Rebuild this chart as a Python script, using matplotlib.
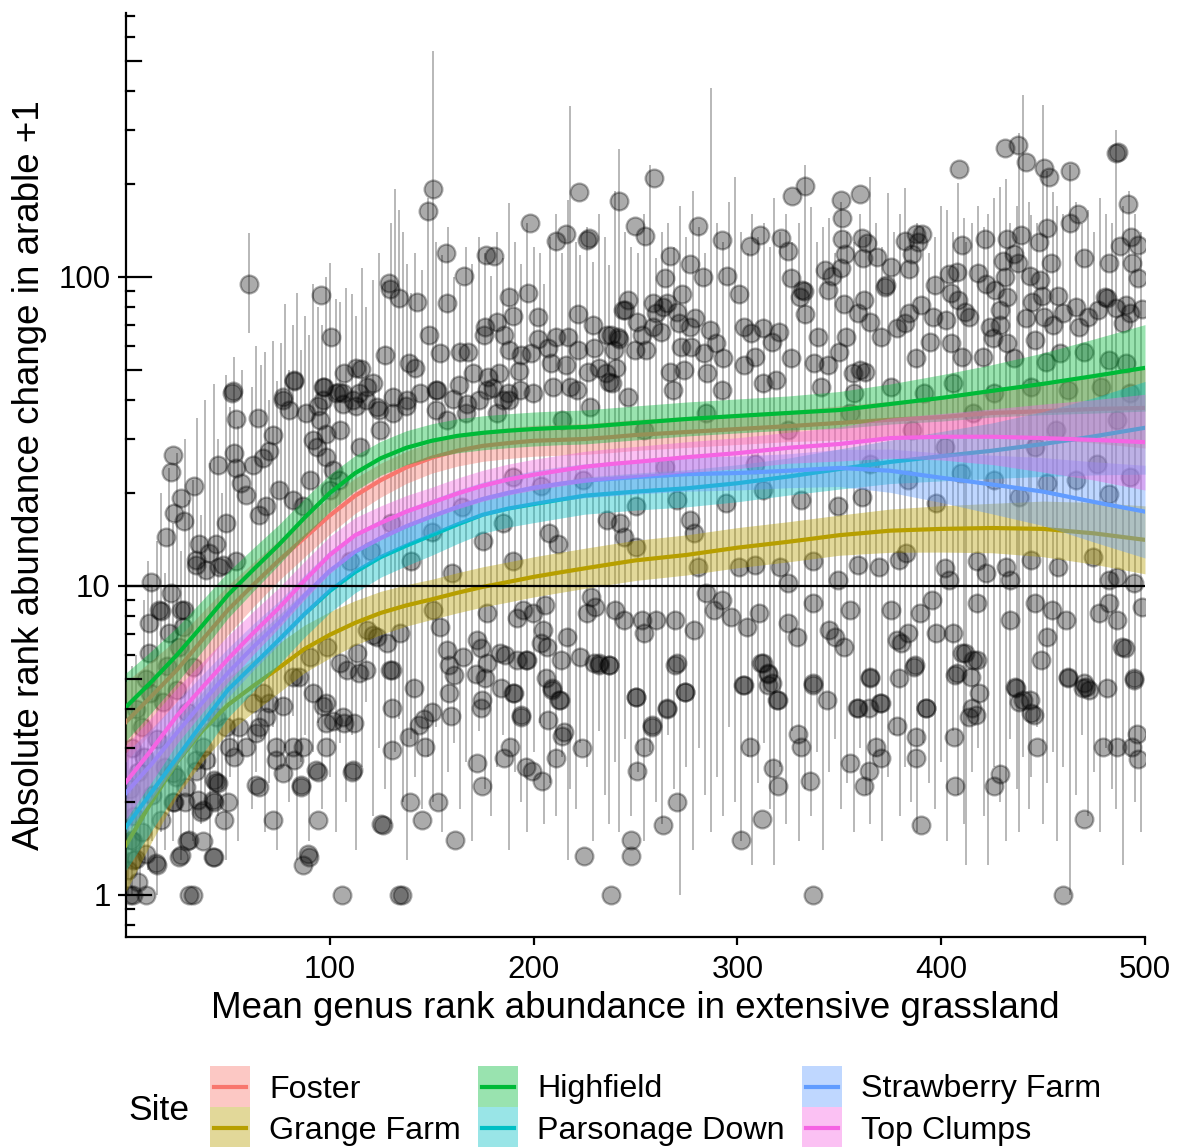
import matplotlib
matplotlib.use("Agg")
import matplotlib.pyplot as plt
from matplotlib.patches import Rectangle
from matplotlib.lines import Line2D
import numpy as np

plt.rcParams['font.family'] = ['Liberation Sans', 'DejaVu Sans']

W, H = 1181, 1147

sites = ["Foster", "Grange Farm", "Highfield", "Parsonage Down", "Strawberry Farm", "Top Clumps"]
site_colors = ["#F8766D", "#B79F00", "#00BA38", "#00BFC4", "#619CFF", "#F564E3"]

# loess fits
smooth_x = [0, 12.5, 25, 37.5, 50, 62.5, 75, 87.5, 100, 112.5, 125, 137.5, 150, 162.5, 175, 187.5, 200, 212.5, 225,
            237.5, 250, 275, 300, 325, 350, 375, 400, 425, 450, 475, 500]
fit_foster = [3.63, 4.4, 5.35, 6.7, 8.36, 10.1, 12.1, 14.3, 16.9, 19.6, 22.0, 24.2, 26.0, 27.4, 28.4, 29.0, 29.5, 29.7,
              29.9, 30.3, 30.8, 31.5, 32.2, 32.9, 33.7, 34.5, 35.2, 36.3, 36.8, 37.4, 37.7]
fit_grange = [1.45, 2.0, 2.69, 3.4, 4.12, 4.75, 5.43, 6.25, 6.95, 7.6, 8.18, 8.65, 9.05, 9.5, 9.93, 10.3, 10.7, 11.05,
              11.4, 11.75, 12.1, 12.6, 13.3, 13.9, 14.6, 15.1, 15.3, 15.4, 15.3, 14.8, 14.1]
fit_highfield = [4.06, 4.9, 5.98, 7.45, 9.35, 11.3, 13.6, 16.6, 20.0, 23.2, 25.9, 28.0, 29.5, 30.6, 31.3, 31.8, 32.2,
                 32.5, 32.7, 33.2, 33.7, 34.7, 35.5, 36.3, 37.1, 38.8, 40.6, 42.8, 45.1, 47.8, 50.8]
fit_parsonage = [1.66, 2.15, 2.78, 3.6, 4.61, 5.55, 6.69, 8.1, 9.63, 11.1, 12.4, 13.5, 14.6, 15.8, 17.0, 17.8, 18.4,
                 19.0, 19.6, 19.9, 20.2, 20.7, 21.5, 22.6, 23.9, 25.2, 26.3, 27.4, 28.8, 30.5, 32.5]
fit_strawberry = [2.14, 2.65, 3.35, 4.2, 5.23, 6.35, 7.6, 9.3, 11.2, 12.9, 14.3, 15.6, 16.8, 18.0, 19.1, 20.0, 20.8,
                  21.4, 21.9, 22.2, 22.5, 23.0, 23.2, 23.6, 24.1, 23.6, 22.4, 21.3, 20.2, 18.7, 17.4]
fit_topclumps = [2.32, 2.95, 3.80, 4.7, 5.80, 7.05, 8.49, 10.4, 12.6, 14.6, 16.0, 17.4, 18.6, 19.9, 21.1, 22.1, 22.9,
                 23.6, 24.3, 24.8, 25.2, 26.1, 26.9, 28.0, 28.8, 30.1, 30.4, 30.4, 30.1, 29.7, 29.2]

# half width of the confidence band, log10 units
se_foster = [0.13, 0.115, 0.10, 0.09, 0.08, 0.072, 0.065, 0.062, 0.06, 0.057, 0.055, 0.052, 0.05, 0.05, 0.05, 0.05,
             0.05, 0.05, 0.05, 0.05, 0.05, 0.05, 0.05, 0.05, 0.055, 0.06, 0.065, 0.075, 0.09, 0.11, 0.13]
se_grange = [0.15, 0.13, 0.11, 0.10, 0.09, 0.085, 0.08, 0.077, 0.075, 0.072, 0.07, 0.067, 0.065, 0.065, 0.065, 0.065,
             0.065, 0.065, 0.065, 0.065, 0.065, 0.065, 0.065, 0.065, 0.065, 0.07, 0.075, 0.08, 0.09, 0.10, 0.11]
se_highfield = [0.11, 0.10, 0.09, 0.082, 0.075, 0.07, 0.065, 0.062, 0.06, 0.057, 0.055, 0.055, 0.055, 0.055, 0.055,
                0.055, 0.055, 0.055, 0.055, 0.055, 0.055, 0.055, 0.055, 0.055, 0.06, 0.065, 0.075, 0.085, 0.10, 0.12, 0.14]
se_parsonage = [0.14, 0.125, 0.11, 0.10, 0.09, 0.085, 0.08, 0.075, 0.07, 0.067, 0.065, 0.065, 0.065, 0.062, 0.06, 0.06,
                0.06, 0.06, 0.06, 0.06, 0.06, 0.06, 0.06, 0.06, 0.065, 0.07, 0.08, 0.09, 0.105, 0.125, 0.15]
se_strawberry = [0.13, 0.115, 0.10, 0.09, 0.08, 0.075, 0.07, 0.067, 0.065, 0.062, 0.06, 0.057, 0.055, 0.055, 0.055,
                 0.055, 0.055, 0.055, 0.055, 0.055, 0.055, 0.055, 0.055, 0.055, 0.06, 0.07, 0.08, 0.095, 0.11, 0.13, 0.15]
se_topclumps = [0.12, 0.105, 0.09, 0.082, 0.075, 0.07, 0.065, 0.062, 0.06, 0.057, 0.055, 0.052, 0.05, 0.05, 0.05, 0.05,
                0.05, 0.05, 0.05, 0.05, 0.05, 0.05, 0.05, 0.05, 0.055, 0.065, 0.075, 0.09, 0.11, 0.13, 0.155]

fits = [fit_foster, fit_grange, fit_highfield, fit_parsonage, fit_strawberry, fit_topclumps]
ses = [se_foster, se_grange, se_highfield, se_parsonage, se_strawberry, se_topclumps]

# genus points (x = mean rank in grassland, y = abs change + 1)
pts_top = [
    (60.4, 94.9), (95.8, 87.6), (100.6, 63.8), (82.3, 45.9), (52.0, 42.0), (97.1, 44.0), (107.0, 49.0), (115.3, 50.5),
    (121.0, 45.5), (129.0, 95.5), (129.6, 91.5), (134.0, 85.6), (143.0, 83.0), (148.0, 163), (150.7, 192), (157.0, 120),
    (157.5, 82.6), (166.0, 101), (176.7, 118), (180.6, 117), (198.3, 150), (211.0, 131), (216.0, 138), (222.3, 188),
    (227.0, 134), (226.0, 132), (188.0, 86), (190.0, 75), (197.3, 89), (202.0, 74), (222.0, 76), (229.0, 70), (244.0, 78),
    (127.0, 56), (139.0, 52.7), (141.8, 50.9), (148.7, 65), (154.0, 56.7), (164.0, 57), (168.0, 57), (176.0, 69),
    (175.7, 65), (182.0, 71.5), (185.5, 65), (188.0, 58), (183.0, 49), (194.0, 56), (198.8, 56.7), (202.0, 63),
    (207.0, 59), (211.0, 64), (208.6, 52.7), (217.0, 64), (216.0, 52), (222.0, 58), (229.7, 59), (238.0, 65), (242.0, 63),
    (235.6, 49), (238.5, 45.5), (232.0, 50.9), (226.7, 49.3), (193.0, 49.6), (170.3, 49), (177.7, 47.3), (163.4, 44.8),
    (152.0, 43.1), (112.9, 50.9), (104.5, 42.5), (77.0, 41.0), (114.4, 42.0),
    (241.7, 176), (259, 209), (249.8, 146), (254.6, 136), (267, 117), (280.5, 146), (276.5, 110), (264.5, 99), (273, 88),
    (283, 100), (292.5, 132), (295, 101), (300.6, 88), (306.3, 126), (311.3, 137), (321.3, 134), (324.7, 121), (327, 183),
    (333.3, 197), (326.4, 99), (332.5, 90), (330.8, 86), (333.3, 76), (351, 177), (351.4, 155), (351.4, 133), (353, 119),
    (360, 186), (360.9, 134), (363.5, 129), (361.8, 115), (342.8, 105), (346.3, 101), (350.6, 107), (344.5, 91),
    (368.6, 116), (375.2, 108), (372.4, 93), (362, 84), (352.3, 82), (382, 131), (387.6, 138), (390.7, 138), (388.4, 130),
    (385.9, 119), (384, 106), (397, 94), (408.8, 223), (410.3, 127), (407.9, 104), (404, 102), (404.8, 89), (418.2, 103),
    (421.5, 133), (422, 95), (426.3, 91), (431.5, 261), (437.5, 267), (441.8, 235), (450.4, 225), (453, 211), (463.3, 220),
    (452, 144), (463, 150), (467, 160), (432.4, 133), (439.2, 137), (447.9, 130), (435.8, 119), (437.5, 111), (430.3, 113),
    (431.5, 100), (432.4, 86), (453.9, 111), (443.5, 101), (448.7, 98), (470.2, 115), (457.3, 87), (449.6, 87),
    (486.6, 254), (485.7, 251), (491.8, 172), (493, 135), (487.8, 126), (496.4, 127), (482.3, 111), (493.5, 111),
    (496.4, 99), (480.6, 86), (490.9, 81), (498.3, 79),
]

pts_mid = [
    (236.0, 64.9), (241.2, 64.1), (239.5, 58.0), (240.3, 50.6), (236.9, 45.8), (246.4, 84.3), (244.7, 78.2), (250.7, 71.7),
    (253.3, 64.9), (249.8, 58.0), (255.0, 58.0), (258.4, 82.2), (260.2, 76.3), (263.6, 80.2), (265.3, 82.2), (262.7, 66.5),
    (258.4, 69.1), (271.3, 70.8), (270.5, 77.2), (272.2, 59.5), (267.0, 49.4), (273.9, 50.0), (277.4, 59.5), (279.1, 73.5),
    (276.5, 69.1), (283.4, 56.6), (286.8, 67.4), (289.4, 61.0), (292.9, 54.5), (285.1, 48.8), (303.2, 69.1), (306.6, 65.7),
    (303.2, 51.9), (308.4, 55.2), (312.7, 68.2), (317.0, 61.8), (320.4, 66.5), (318.7, 46.4), (326.4, 54.5), (331.6, 90.8),
    (339.4, 64.1), (337.6, 52.6), (344.5, 51.9), (349.7, 57.3), (353.1, 64.1), (356.6, 48.8), (360.0, 50.0), (362.6, 49.4),
    (359.2, 76.3), (365.2, 71.7), (370.4, 64.1), (373.0, 94.2), (378.1, 68.2), (382.4, 70.8), (384.1, 76.3), (387.6, 54.5),
    (390.2, 81.2), (396.2, 74.4), (394.5, 61.8), (402.2, 72.6), (408.2, 84.3), (411.7, 77.2), (413.4, 74.4), (404.8, 61.0),
    (410.0, 55.2), (420.3, 55.2), (423.7, 69.1), (425.5, 63.3), (428.9, 78.2), (428.9, 69.9), (432.4, 61.0), (435.8, 54.5),
    (446.1, 62.5), (441.8, 73.5), (444.4, 83.2), (450.4, 74.4), (454.7, 69.9), (459.9, 76.3), (465.9, 80.2), (467.7, 69.1),
    (472.0, 74.4), (477.1, 78.2), (481.4, 85.3), (485.7, 79.2), (489.2, 70.8), (492.6, 76.3), (470.2, 57.3), (458.2, 56.6),
    (451.3, 53.2), (482.3, 53.9), (490.9, 52.6),
    (96.9, 44.2), (106.7, 42.0), (111.6, 39.9), (118.1, 44.2), (123.0, 37.9), (131.2, 36.2), (137.8, 39.9), (144.3, 42.0),
    (152.5, 43.1), (157.4, 34.4), (167.2, 38.9), (177.0, 43.1), (185.2, 39.9), (193.4, 43.1), (199.9, 42.0), (209.7, 44.2),
    (221.2, 43.1), (227.7, 37.9), (95.2, 34.4), (105.0, 32.0), (114.9, 28.2), (93.6, 28.2), (90.3, 22.0), (101.8, 23.8),
    (124.7, 32.0), (100.1, 20.5), (87.0, 18.1), (181.9, 36.2),
    (52.4, 42.6), (54, 34.7), (64.6, 35.0), (22.9, 26.5), (22.1, 23.4), (33.5, 21.1), (27.0, 19.2), (23.7, 17.2),
    (28.6, 16.2), (19.6, 14.4), (36.0, 13.7), (45.0, 24.6), (53.2, 26.9), (54, 24.0), (56.4, 21.5), (62.2, 24.6),
    (67.1, 26.0), (70.3, 27.3), (72, 30.8), (76.9, 39.9), (80.2, 37.1), (82.6, 46.4), (65.4, 17.0), (68.7, 18.1),
    (58.9, 19.7), (49.1, 16.0), (44.2, 13.7), (40.9, 12.8), (34.4, 12.1), (39.3, 11.3), (47.4, 11.7), (88.3, 36.2),
    (94.1, 38.2), (96.5, 39.9), (91.6, 29.6), (98.2, 31.1), (103.1, 42.0), (106.3, 38.9), (112.9, 38.2), (117.8, 39.9),
    (124.3, 37.1), (130.9, 41.0), (137.4, 38.2), (152.1, 37.1), (160.3, 40.4), (166.9, 36.2), (173.4, 39.9), (180.0, 43.8),
    (188.1, 39.9), (98.2, 26.2), (104.7, 22.0), (75.3, 20.5), (81.8, 19.0),
    (140, 12), (160, 11), (175, 14), (190, 12), (150, 15), (130, 16), (120, 13), (110, 12), (165, 18), (185, 16),
    (203.8, 21.0), (236.1, 16.4), (250.2, 18.1), (270.4, 19.0), (294.6, 18.5), (312.8, 20.5), (331.0, 19.0), (349.2, 18.1),
    (361.3, 19.4), (383.5, 22.0), (397.6, 18.5), (409.7, 23.2), (425.9, 22.0), (438.0, 19.4), (452.1, 21.5), (466.3, 22.0),
    (482.4, 19.9), (492.5, 22.6), (189.7, 22.6), (224.0, 22.0), (264.4, 24.3), (308.8, 24.9), (365.3, 24.9), (401.7, 28.2),
    (446.1, 28.2), (476.4, 24.9), (213.9, 34.4), (254.3, 32.0), (284.6, 36.2), (324.9, 32.0), (355.2, 36.2), (385.5, 32.0),
    (415.8, 36.2), (456.2, 32.0), (486.4, 34.4), (187.6, 42.0), (217.9, 44.2), (246.2, 41.0), (268.4, 43.1), (292.6, 43.1),
    (312.8, 45.3), (341.1, 44.2), (357.2, 42.0), (375.4, 44.2), (391.6, 42.0), (405.7, 45.3), (425.9, 42.0), (444.1, 44.2),
    (462.2, 43.1), (478.4, 44.2), (492.5, 42.0),
    (207.8, 14.8), (211.9, 13.7), (242.2, 16.0), (244.2, 14.4), (250.2, 13.4), (276.5, 16.4), (278.5, 14.8), (280.5, 11.5),
    (300.7, 11.5), (308.8, 11.7), (320.9, 11.5), (324.9, 10.2), (337.0, 12.0), (349.2, 10.45), (359.3, 11.7), (369.3, 11.5),
    (379.4, 12.1), (382.5, 12.8), (401.7, 11.4), (403.7, 10.45), (417.8, 12.0), (421.8, 11.0), (431.9, 11.5), (434.0, 10.45),
    (444.1, 12.1), (457.2, 11.5), (474.3, 12.4), (482.4, 10.45), (486.4, 10.7), (494.5, 10.2),
]

pts_low = [
    (191.7, 7.86), (194.7, 8.36), (205.8, 8.68), (196.7, 5.76), (203.8, 6.52), (208.8, 4.61), (212.9, 4.28), (189.7, 4.49),
    (193.7, 3.78), (228.0, 9.24), (230.0, 8.57), (232.1, 5.62), (237.1, 5.55), (240.1, 8.36), (244.2, 7.76), (253.3, 7.76),
    (254.3, 7.03), (250.2, 4.38), (258.3, 3.55), (260.3, 7.76), (265.4, 4.02), (270.4, 5.62), (269.4, 7.76), (274.5, 4.55),
    (278.5, 7.21), (284.6, 9.47), (288.6, 8.36), (292.6, 9.01), (296.7, 7.96), (302.7, 4.78), (304.7, 7.39), (310.8, 8.16),
    (312.8, 5.62), (314.8, 5.22), (316.9, 4.84), (319.9, 4.28), (324.9, 7.57), (329.0, 6.86), (337.0, 8.79), (337.0, 4.84),
    (345.1, 7.21), (348.1, 6.86), (352.2, 6.36), (355.2, 8.36), (359.3, 4.02), (365.3, 5.09), (370.4, 4.17), (375.4, 8.36),
    (378.4, 6.69), (380.5, 6.52), (383.5, 7.03), (386.5, 5.48), (389.5, 8.16), (392.6, 4.02), (395.6, 9.01), (397.6, 7.03),
    (405.7, 7.03), (407.7, 5.22), (411.8, 6.06), (415.8, 5.76), (417.8, 8.79), (413.8, 3.78), (434.0, 7.76), (436.0, 4.72),
    (440.0, 4.28), (444.1, 3.87), (446.1, 8.79), (452.1, 6.86), (454.2, 8.36), (461.2, 7.76), (462.2, 5.09), (470.3, 4.84),
    (472.3, 4.61), (477.4, 8.16), (482.4, 8.79), (486.4, 7.76), (488.5, 6.36), (494.5, 4.96), (498.6, 8.57),
    (118.1, 7.21), (123.0, 6.86), (128.0, 6.52), (134.5, 7.03), (150.8, 8.36), (154.1, 7.39), (157.4, 6.2), (165.6, 5.91),
    (172.1, 6.69), (177.0, 8.16), (183.6, 6.06), (191.7, 5.76), (199.9, 8.16), (204.8, 7.21), (206.5, 6.36), (216.3, 6.86),
    (222.8, 5.91), (226.1, 8.16), (229.4, 5.62), (105.0, 5.62), (108.3, 5.35), (129.6, 5.35), (113.2, 6.06), (90.3, 5.91),
    (98.5, 6.36),
    (135.5, 1.0), (238.0, 1.0), (336.9, 1.0), (459.8, 1.0), (161.3, 1.51), (224.8, 1.34), (247.7, 1.34), (247.7, 1.51),
    (301.9, 1.51), (263.3, 1.68), (270.6, 2.0), (312.3, 1.76), (389.9, 1.68), (470.0, 1.76), (139.2, 2.0), (153.2, 2.0),
    (145.2, 1.75), (125.9, 1.69), (174.8, 2.25), (204.3, 2.34), (250.6, 2.51), (320.0, 2.25), (335.7, 2.34), (362.2, 2.25),
    (364.6, 2.51), (406.8, 2.25), (426.1, 2.25), (429.0, 2.47), (355.4, 2.67), (317.6, 2.57), (370.6, 2.77), (387.5, 2.77),
    (368.2, 3.02), (387.5, 3.25), (406.3, 3.25), (447.1, 3.02), (479.6, 3.02), (486.3, 3.02), (493.6, 3.02), (496.7, 2.75),
    (496.0, 3.33), (196.5, 2.60), (199.4, 2.51), (210.8, 2.77), (213.9, 3.27), (215.1, 3.36), (223.6, 2.99), (254.2, 3.02),
    (258.0, 3.50), (265.3, 4.0), (274.2, 4.53), (269.4, 5.55), (306.0, 3.02), (329.6, 3.33), (331.3, 3.02), (336.9, 4.78),
    (344.1, 4.28), (358.6, 4.02), (364.6, 4.02), (370.1, 4.17), (378.3, 3.52), (392.3, 4.02), (415.2, 4.02), (416.9, 3.82),
    (418.4, 4.52), (436.9, 4.67), (438.1, 4.22), (443.4, 4.28), (445.4, 3.82), (449.0, 5.76), (462.2, 5.02), (469.5, 4.67),
    (471.2, 4.72), (481.5, 4.67), (494.8, 5.02), (490.0, 6.28), (303.1, 4.78), (311.5, 5.62), (315.2, 5.20), (315.2, 4.78),
    (319.5, 4.28), (365.3, 5.02), (379.1, 5.02), (387.0, 5.55), (406.8, 5.14), (410.4, 6.06), (414.7, 5.06), (417.6, 5.76),
    (130.7, 5.35), (130.7, 4.02), (130.7, 2.94), (141.1, 4.67), (138.7, 3.25), (146.9, 3.02), (144.0, 3.55), (146.4, 3.71),
    (150.0, 3.9), (158.5, 4.5), (159.7, 3.8), (160.9, 5.15), (158.5, 5.55), (174.1, 6.28), (177.3, 5.62), (176.1, 5.02),
    (174.9, 4.28), (174.1, 4.02), (171.7, 5.20), (172.2, 2.68), (183.8, 4.67), (186.2, 6.0), (190.3, 4.5), (193.9, 3.82),
    (185.7, 2.77), (188.6, 3.02), (196.5, 5.76), (206.2, 5.02), (209.1, 4.67), (212.7, 4.28), (207.2, 3.67), (213.4, 5.76),
    (232.0, 5.55), (236.8, 5.55), (250.1, 4.38),
]

pts_left = [
    (3.5, 1.0), (10, 1.0), (3.5, 1.5), (3.5, 1.3), (17, 1.75), (15, 1.25), (26, 1.33), (31, 1.0), (23, 2.0), (29, 2.0),
    (37, 1.85), (30, 1.5), (38, 1.5), (43, 1.33), (43, 2.0), (50, 2.0), (48, 1.75), (45, 2.3), (64, 2.27), (72, 1.75),
    (86, 2.27), (94, 2.5), (94, 1.75), (90, 1.33), (87, 1.25), (106, 1.0), (111, 2.5), (125, 1.7), (134, 1.0),
    (12.3, 10.3), (22.1, 9.47), (17.2, 8.28), (11.5, 7.57), (28.6, 8.36), (21.3, 7.03), (11.5, 6.06), (34.4, 11.7),
    (45.8, 11.5), (54, 12.0), (23.7, 2.0), (22.9, 2.48), (29.5, 2.24), (34.4, 2.51), (37.6, 1.88), (42.5, 2.03),
    (44.2, 2.32), (31.1, 1.51), (27.0, 1.35), (42.5, 1.33), (14.7, 1.27), (9.8, 1.36), (4.9, 1.31), (2.5, 1.51),
    (32.7, 1.0), (24.5, 2.41), (35.2, 2.03), (43.4, 2.36), (65.4, 2.24), (85.9, 2.24), (89.2, 1.36), (37.6, 3.02),
    (34.4, 2.73), (39.3, 2.73), (50.7, 3.02), (58.9, 3.02), (53.2, 2.80), (73.6, 3.02), (81.8, 3.02), (86.7, 3.02),
    (82.6, 2.73), (93.3, 2.54), (98.2, 3.02), (111.2, 2.54), (65.4, 3.50), (55.6, 3.50), (49.1, 3.50), (44.2, 3.78),
    (62.2, 4.17), (67.1, 4.49), (68.7, 3.78), (81.8, 5.09), (85.1, 5.09), (91.6, 4.49), (98.2, 3.59), (101.4, 3.65),
    (107.2, 3.59), (112.1, 3.59), (106.3, 3.78), (114.5, 5.22), (117.8, 5.35), (121.1, 6.94), (98.2, 4.17), (76.9, 4.1),
    (70.3, 4.17), (63.8, 3.35), (73.6, 2.73), (76.9, 2.48), (96.5, 4.1),
    (16.4, 8.36), (27.0, 8.36), (26.2, 6.36), (32.7, 5.48), (27.8, 7.39), (3, 3.0), (5, 4.0), (8, 3.5), (10, 5.0),
    (6, 2.5), (2, 2.2), (4, 1.8), (9, 2.8), (12, 4.5), (15, 3.2), (18, 4.2), (20, 5.5), (25, 4.6), (30, 3.9), (6, 1.1),
    (1, 1.2), (8, 1.6), (13, 2.1), (19, 2.6), (2, 1.0),
]

# vertical ranges (x, low, high)
bars = [
    (1, 1.0, 3.0), (3, 1.0, 5.5), (5, 1.2, 6.0), (7, 1.0, 4.0), (9, 1.3, 9.0), (11, 1.2, 12), (13, 1.5, 10), (15, 1.0, 14),
    (17, 1.6, 20), (19, 1.4, 11), (21, 1.8, 24), (23, 1.5, 16), (25, 2.0, 27), (27, 1.3, 13), (29, 2.2, 30), (31, 1.6, 19),
    (33, 1.5, 22), (35, 2.5, 35), (37, 1.7, 17), (39, 2.0, 40), (41, 1.4, 25), (43, 2.6, 45), (45, 1.8, 30), (47, 2.2, 20),
    (49, 1.3, 48), (51, 2.4, 38), (53, 3.0, 55), (55, 1.5, 33), (57, 2.8, 50), (60.4, 66, 139), (62, 1.9, 44), (64, 2.5, 60),
    (66, 3.2, 52), (68, 1.6, 57), (70, 2.3, 40), (72, 3.5, 62), (74, 1.4, 46), (76, 2.6, 61), (78, 3.0, 82), (80, 2.0, 50),
    (82, 3.8, 70), (84, 1.3, 89), (86, 2.7, 58), (88, 3.3, 75), (90, 1.5, 65), (92, 2.9, 95), (94, 3.6, 80), (96, 1.9, 70),
    (98, 4.0, 100), (100, 2.4, 111), (103, 1.6, 85), (105, 3.1, 83), (108, 2.0, 92), (111, 3.3, 88), (113, 1.4, 75),
    (116, 2.6, 107), (118, 4.2, 80), (121, 1.8, 98), (124, 3.0, 120), (127, 2.2, 96), (130, 1.7, 150), (132, 2.9, 193),
    (134, 3.7, 165), (136, 2.0, 140), (138, 1.3, 110), (140, 3.2, 89), (142, 2.4, 120), (145, 1.9, 105), (148, 2.8, 180),
    (150.5, 2.0, 540), (152, 3.5, 130), (155, 1.6, 118), (158, 2.5, 145), (161, 3.1, 100), (164, 1.9, 94), (167, 2.7, 125),
    (170, 1.5, 110), (173, 3.4, 135), (176, 2.2, 120), (179, 1.8, 101), (182, 2.6, 140), (185, 3.3, 115), (188, 1.4, 173),
    (191, 2.5, 130), (194, 2.0, 110), (197, 1.6, 150), (200, 2.9, 125), (203, 3.6, 120), (205, 1.7, 95), (208, 2.3, 135),
    (211, 1.8, 160), (214, 2.8, 120), (217, 1.3, 178), (218, 2.2, 357), (221, 1.9, 130), (223, 3.1, 118), (226, 2.6, 145),
    (229, 1.5, 112), (232, 3.4, 160), (235, 2.1, 135), (237, 1.7, 109), (240, 2.7, 190), (242, 1.6, 260), (245, 3.2, 140),
    (248, 1.8, 125), (251, 2.5, 120), (254, 1.5, 160), (257, 2.9, 230), (260, 2.0, 115), (263, 1.7, 140), (266, 3.3, 150),
    (269, 2.2, 125), (272, 1.0, 170), (275, 2.6, 135), (278, 1.4, 190), (281, 3.0, 145), (284, 2.1, 120), (287, 1.6, 410),
    (290, 2.4, 149), (293, 1.8, 130), (296, 3.5, 175), (299, 2.0, 210), (302, 1.5, 140), (305, 2.8, 120), (307, 1.25, 160),
    (310, 2.3, 135), (313, 3.1, 150), (316, 1.9, 125), (318, 1.25, 180), (321, 2.6, 140), (324, 1.7, 160), (327, 3.4, 130),
    (330, 1.5, 150), (333, 2.2, 230), (336, 1.8, 168), (339, 2.9, 130), (342, 1.4, 145), (345, 2.5, 155), (348, 3.2, 120),
    (351, 1.9, 175), (354, 2.3, 140), (357, 1.6, 130), (360, 3.0, 160), (363, 2.1, 135), (365, 1.7, 210), (368, 2.8, 150),
    (371, 1.5, 125), (374, 2.4, 187), (377, 3.3, 140), (380, 1.8, 160), (382, 2.6, 194), (385, 2.0, 130), (388, 1.6, 150),
    (391, 3.1, 145), (394, 2.3, 120), (397, 1.9, 135), (400, 2.7, 170), (403, 1.5, 165), (406, 3.4, 140), (408, 2.1, 202),
    (411, 1.7, 155), (412, 1.25, 130), (415, 2.5, 150), (418, 3.0, 170), (421, 1.8, 145), (423, 1.25, 160), (426, 2.6, 180),
    (429, 2.0, 195), (432, 1.5, 208), (434, 3.2, 150), (437, 2.2, 170), (438, 1.6, 292), (440, 2.8, 388), (443, 1.9, 175),
    (444, 2.4, 159), (447, 3.5, 150), (450, 1.7, 360), (452, 2.3, 220), (455, 2.9, 189), (457, 1.5, 170), (460, 2.6, 160),
    (463, 1.0, 230), (466, 2.1, 175), (469, 3.3, 150), (472, 1.8, 165), (475, 2.5, 140), (478, 1.6, 180), (481, 3.0, 160),
    (484, 2.2, 150), (486, 1.9, 300), (489, 1.25, 170), (492, 2.8, 190), (495, 2.0, 160), (498, 1.6, 140),
]

x_ticks = [100, 200, 300, 400, 500]
y_ticks = [1, 10, 100]
y_ticklabels = ["1", "10", "100"]

fig = plt.figure(figsize=(W / 100, H / 100), dpi=100)
ax = fig.add_axes([126 / W, 1 - 937 / H, (1145 - 126) / W, (937 - 13) / H])
ax.set_yscale('log')
ax.set_xlim(0, 500)
ax.set_ylim(0.731, 715)

bx = [b[0] for b in bars]
blo = [b[1] for b in bars]
bhi = [b[2] for b in bars]
ax.vlines(bx, blo, bhi, color='black', alpha=0.3, linewidth=1.3, zorder=1)

all_pts = pts_top + pts_mid + pts_low + pts_left
px = [p[0] for p in all_pts]
py = [p[1] for p in all_pts]
ax.scatter(px, py, s=165, facecolor=(0, 0, 0, 0.33), edgecolor=(0, 0, 0, 0.33), linewidth=1.6, zorder=2)

# each site: ribbon then line, later sites drawn over earlier ones
for i in range(len(sites)):
    fit = np.array(fits[i])
    se = np.array(ses[i])
    z = 4 + 2 * i
    ax.fill_between(smooth_x, fit / 10 ** se, fit * 10 ** se, color=site_colors[i], alpha=0.4, linewidth=0, zorder=z)
    ax.plot(smooth_x, fit, color=site_colors[i], linewidth=3, zorder=z + 1, solid_joinstyle='round')

ax.axhline(10, color='black', linewidth=1.6, zorder=20)

ax.spines['top'].set_visible(False)
ax.spines['right'].set_visible(False)
ax.spines['left'].set_linewidth(1.6)
ax.spines['bottom'].set_linewidth(1.6)

ax.set_xticks(x_ticks)
ax.set_xticklabels([str(t) for t in x_ticks])
ax.set_yticks(y_ticks)
ax.set_yticklabels(y_ticklabels)
ax.yaxis.set_minor_locator(matplotlib.ticker.NullLocator())
ax.tick_params(axis='both', which='major', direction='out', length=6, width=1.6, labelsize=22.5)
ax.tick_params(axis='x', pad=7)
ax.tick_params(axis='y', pad=5)

# log ticks drawn inside the panel
for dec in [0.1, 1, 10, 100]:
    for m in range(1, 10):
        v = m * dec
        if v < 0.731 or v > 715:
            continue
        if m == 1:
            L = 0.0245
        elif m == 5:
            L = 0.0147
        else:
            L = 0.0079
        ax.plot([0, L], [v, v], transform=ax.get_yaxis_transform(), color='black', linewidth=1.6, clip_on=False, zorder=25)

fig.text(30 / W, 1 - 475 / H, "Absolute rank abundance change in arable +1", rotation=90,
         ha='center', va='center', fontsize=26.5)
fig.text(635 / W, 1 - 1008 / H, "Mean genus rank abundance in extensive grassland",
         ha='center', va='center', fontsize=26.5)

# legend
fig.text(128 / W, 1 - 1110 / H, "Site", ha='left', va='center', fontsize=25.5)
col_x = [210, 478, 802]
row_y = [1066, 1107]
kw, kh = 40, 41
for i in range(len(sites)):
    x0 = col_x[i // 2]
    y0 = row_y[i % 2]
    fig.add_artist(Rectangle((x0 / W, 1 - (y0 + kh) / H), kw / W, kh / H, transform=fig.transFigure,
                             facecolor=site_colors[i], alpha=0.4, edgecolor='none'))
    fig.add_artist(Line2D([(x0 + 4) / W, (x0 + 36) / W], [1 - (y0 + kh / 2) / H] * 2, transform=fig.transFigure,
                          color=site_colors[i], linewidth=3))
    fig.text((x0 + 59) / W, 1 - (y0 + kh / 2 + 3) / H, sites[i], ha='left', va='center', fontsize=23.2)

fig.savefig("out.png", dpi=100)
